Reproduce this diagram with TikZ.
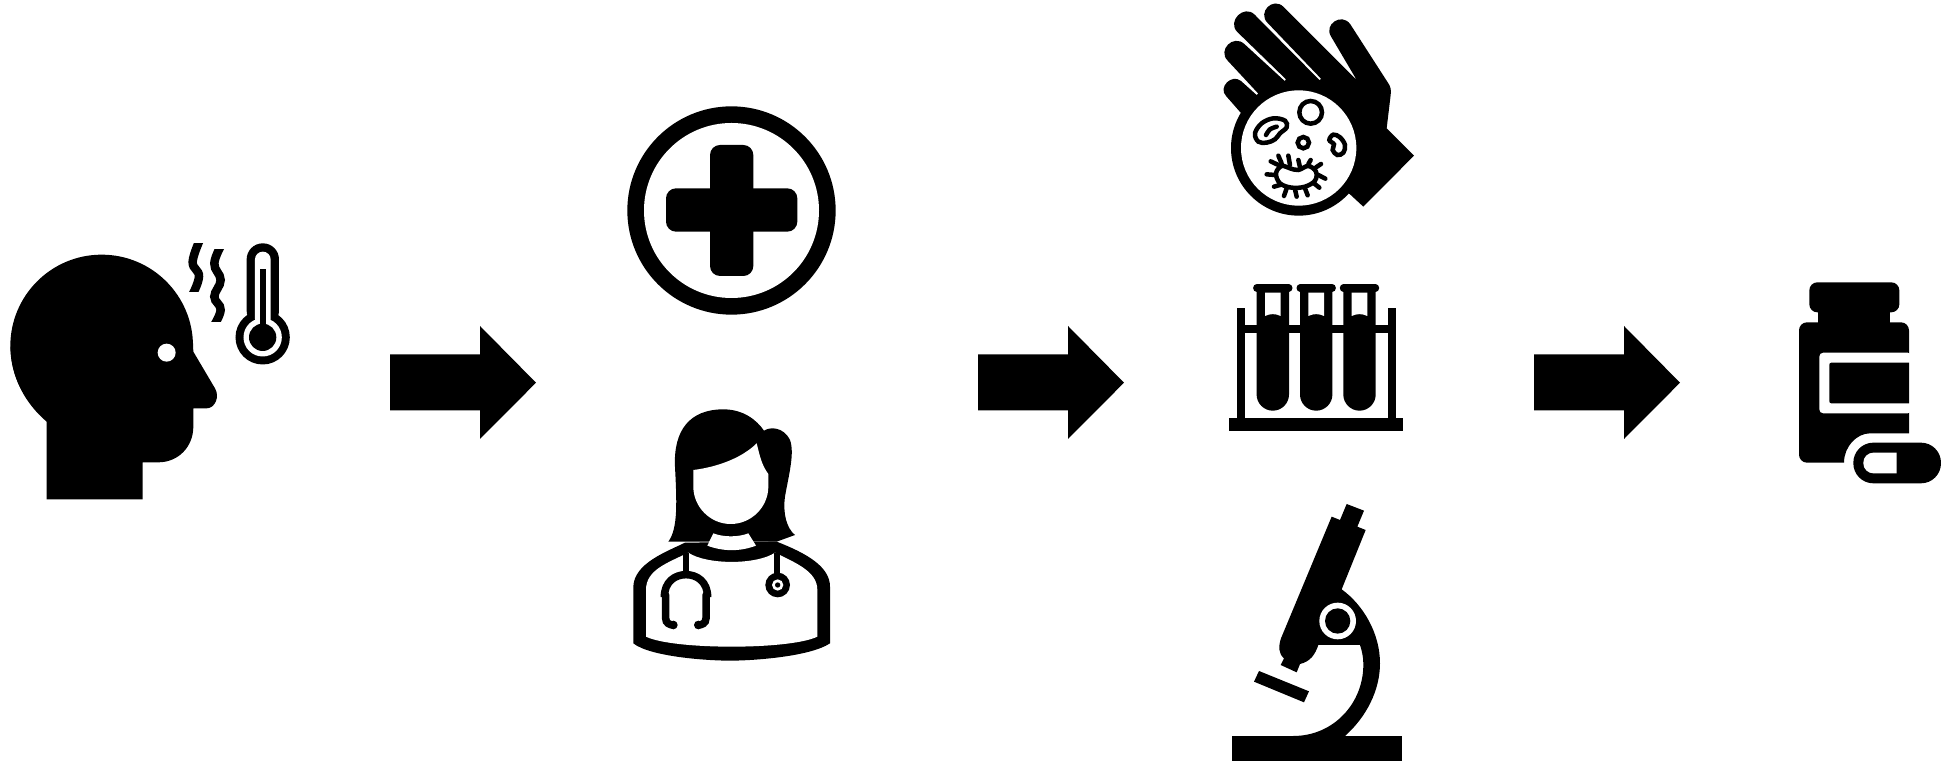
\documentclass[tikz,border=0pt]{standalone}
\usepackage{tikz}
\tikzset{
  solid fill/.style={fill=black},
  blank/.style={fill=white},
  wave/.style={draw=black,line width=0.085cm},
  tube/.style={draw=black,line width=0.075cm,line cap=round},
  bug/.style={draw=black,line width=0.045cm,line cap=round,fill=white},
  crop/.style={shift={#1},scale=0.33333},
}
\begin{document}
\begin{tikzpicture}[x=0.01cm,y=-0.01cm]
  \useasboundingbox (0,0) rectangle (1941,764);

  % the three block arrows
  \foreach \ax in {390,978,1534} {
    \fill[solid fill] (\ax,354.3) -- ({\ax+90},354.3) -- ({\ax+90},326) -- ({\ax+146},382.7)
      -- ({\ax+90},439) -- ({\ax+90},410.3) -- (\ax,410.3) -- cycle;
  }

  % head with fever
  \begin{scope}[crop={(0,220)}]
    \fill[solid fill] (305,378) circle[radius=274];
    \fill[solid fill] (32,380) .. controls (32,470) and (75,550) .. (140,605) -- (140,838) -- (428,838) -- (428,727)
      -- (475,727) .. controls (535,727) and (580,680) .. (580,620) -- (580,565) -- (620,565)
      .. controls (645,565) and (660,530) .. (645,505) -- (580,395) -- (579,370) -- cycle;
    \fill[blank] (500,398) circle[radius=27];
    \begin{scope}
      \clip (540,70) rectangle (625,215);
      \draw[wave] plot[smooth,tension=0.7] coordinates {(604,50) (578,125) (597,170) (572,235)};
    \end{scope}
    \begin{scope}
      \clip (620,88) rectangle (690,305);
      \draw[wave] plot[smooth,tension=0.7] coordinates {(668,68) (643,130) (662,180) (643,230) (662,270) (637,325)};
    \end{scope}
    % thermometer
    \fill[solid fill] (788,352) circle[radius=81.5];
    \fill[solid fill,rounded corners=0.16cm] (740,320) -- (740,70) -- (837,70) -- (837,320) -- cycle;
    \fill[blank] (788,352) circle[radius=57.5];
    \fill[blank,rounded corners=0.078cm] (765,320) -- (765,95) -- (812,95) -- (812,320) -- cycle;
    \fill[solid fill] (780,148) rectangle (797,352);
    \fill[solid fill] (788,352) circle[radius=41];
  \end{scope}

  % medical cross
  \begin{scope}[crop={(620,95)}]
    \fill[solid fill] (334.5,346.5) circle[radius=312.5];
    \fill[blank] (334.5,346.5) circle[radius=262.5];
    \fill[solid fill,rounded corners=0.1cm] (270,150) rectangle (400,543);
    \fill[solid fill,rounded corners=0.1cm] (138,280) rectangle (532,410);
  \end{scope}

  % doctor
  \begin{scope}[crop={(610,400)}]
    \fill[solid fill] (70,730) -- (70,560) .. controls (72,490) and (170,455) .. (225,428)
      -- (500,425) .. controls (590,460) and (660,500) .. (660,560) -- (660,730)
      .. controls (600,770) and (430,782) .. (360,782) .. controls (290,782) and (120,770) .. (70,730);
    \fill[solid fill] (175,425) .. controls (205,385) and (200,300) .. (195,200)
      .. controls (190,90) and (240,28) .. (340,28) .. controls (400,28) and (440,60) .. (462,92)
      .. controls (480,80) and (520,80) .. (540,120) .. controls (555,160) and (535,230) .. (525,290)
      .. controls (518,340) and (530,385) .. (555,405) -- (500,425) -- cycle;
    \fill[blank] (250,210) .. controls (330,200) and (400,170) .. (440,130)
      .. controls (450,170) and (455,195) .. (475,222) -- (475,260)
      .. controls (475,320) and (425,372) .. (362,372) .. controls (300,372) and (250,320) .. (250,260) -- cycle;
    \fill[blank] (310,400) .. controls (340,412) and (385,412) .. (415,400) -- (438,437)
      .. controls (390,455) and (340,455) .. (292,437) -- cycle;
    \fill[blank] (108,710) -- (108,570) .. controls (108,510) and (170,490) .. (235,458)
      .. controls (290,495) and (440,495) .. (495,458) .. controls (560,490) and (622,515) .. (622,570)
      -- (622,710) .. controls (540,750) and (190,750) .. (108,710) -- cycle;
  \end{scope}
  \begin{scope}[crop={(650,540)}]
    \draw[tube,line cap=butt,line width=0.055cm] (108,40) -- (108,100);
    \draw[tube,line cap=butt] (43,172) .. controls (43,125) and (75,104) .. (108,104)
      .. controls (141,104) and (173,125) .. (173,172);
    \draw[tube] (47,165) -- (47,235) .. controls (47,250) and (60,255) .. (70,255);
    \draw[tube] (168,165) -- (168,235) .. controls (168,250) and (155,255) .. (145,255);
    \fill[solid fill] (70,255) circle[radius=13];
    \fill[solid fill] (145,255) circle[radius=13];
    \draw[tube,line cap=butt,line width=0.055cm] (381,40) -- (381,105);
    \fill[solid fill] (383,135) circle[radius=37];
    \fill[blank] (383,135) circle[radius=17];
    \fill[solid fill] (383,135) circle[radius=8];
  \end{scope}

  % hand holding the germs
  \begin{scope}[crop={(1210,0)}]
    \fill[solid fill] (92,338) -- (49,289) .. controls (22,262) and (66,220) .. (93,243)
      -- (141,286) -- (145,281) -- (53,182) .. controls (22,150) and (70,102) .. (103,132)
      -- (224,243) -- (228,238) -- (82,96) .. controls (50,64) and (102,12) .. (134,44)
      -- (329,241) -- (333,236) -- (173,69) .. controls (141,37) and (189,-11) .. (221,21)
      -- (440,240) -- (364,111) .. controls (339,74) and (395,36) .. (421,73)
      -- (535,250) .. controls (542,260) and (544,270) .. (542,285) -- (530,385)
      -- (612,467) -- (460,620) -- (420,583) -- cycle;
    \fill[solid fill] (266,444) circle[radius=203];
    \fill[blank] (266,444) circle[radius=173];
  \end{scope}
  \begin{scope}[crop={(1240,90)}]
    \draw[bug] (212,67) circle[radius=34];
    \draw[bug] (190,158) circle[radius=17];
    \draw[bug] plot[smooth cycle,tension=0.6] coordinates {(45,130) (65,100) (100,85) (135,92) (140,112) (120,130) (105,148) (80,158) (55,155)};
    \draw[bug] plot[smooth] coordinates {(78,135) (90,118) (110,110)};
    \draw[bug] plot[smooth cycle,tension=0.6] coordinates {(268,150) (280,134) (300,142) (315,165) (310,188) (292,195) (278,180) (282,163)};
    % spikes of the bacterium
    \foreach \sx/\sy/\ex/\ey in {115/225/92/214,125/220/115/197,150/225/145/197,180/232/175/210,
      205/222/212/210,228/232/243/222,235/255/256/266,222/280/238/293,195/295/203/316,
      165/298/170/320,140/295/132/318,120/285/102/290,105/255/80/253} {
      \draw[bug] (\sx,\sy) -- (\ex,\ey);
    }
    \draw[bug] plot[smooth cycle,tension=0.6] coordinates {(108,250) (125,228) (150,235) (175,240) (205,228) (228,245) (225,272) (195,290) (155,293) (120,280)};
  \end{scope}

  % rack of test tubes
  \fill[solid fill] (1229.3,418.3) rectangle (1403.3,430.7);
  \fill[solid fill] (1237.3,308.3) rectangle (1245,418.3);
  \fill[solid fill] (1387.7,308.3) rectangle (1395.7,418.3);
  \fill[solid fill] (1245,325) rectangle (1387.7,333.3);
  \foreach \tx in {1272.8,1316.2,1359.5} {
    \fill[solid fill] ({\tx-16.2},288) -- ({\tx+16.2},288) -- ({\tx+16.2},394.5)
      .. controls ({\tx+16.2},403.4) and ({\tx+8.9},410.7) .. (\tx,410.7)
      .. controls ({\tx-8.9},410.7) and ({\tx-16.2},403.4) .. ({\tx-16.2},394.5) -- cycle;
    \draw[tube,line width=0.074cm] ({\tx-16},288) -- ({\tx+16},288);
    \fill[blank] ({\tx-7.8},292.7) -- ({\tx+7.8},292.7) -- ({\tx+7.8},316)
      .. controls ({\tx+3},313.5) and ({\tx-3},313.5) .. ({\tx-7.8},316) -- cycle;
  }

  % microscope
  \begin{scope}[crop={(1220,490)}]
    \fill[solid fill] (35,738) rectangle (545,812);
    \fill[solid fill] (365,298) .. controls (430,345) and (480,430) .. (480,520)
      .. controls (480,600) and (440,680) .. (375,738) -- (220,738)
      .. controls (340,738) and (432,640) .. (430,520) .. controls (430,500) and (425,480) .. (420,465)
      -- (295,465) .. controls (285,495) and (270,515) .. (240,522) -- (230,547) -- (182,525) -- (192,505)
      .. controls (175,490) and (175,470) .. (183,445) -- (335,80) -- (360,90) -- (380,42) -- (432,62)
      -- (412,110) -- (437,120) -- cycle;
    \fill[solid fill] (117,543) -- (267,604) -- (252,637) -- (102,575) -- cycle;
    \fill[blank] (353,393) circle[radius=55];
    \fill[solid fill] (353,393) circle[radius=38];
  \end{scope}

  % pill bottle
  \begin{scope}[crop={(1780,270)}]
    \fill[solid fill,rounded corners=0.08cm] (88,37) rectangle (358,127);
    \fill[solid fill] (115,120) rectangle (330,170);
    \fill[solid fill] (387,490) -- (270,490) .. controls (230,490) and (192,530) .. (192,578)
      [rounded corners=0.08cm] -- (57,578) -- (57,157) -- (387,157) [sharp corners] -- cycle;
    \fill[blank,rounded corners=0.04cm] (395,248) -- (118,248) -- (118,430) -- (395,430) -- cycle;
    \fill[solid fill] (387,278) [rounded corners=0.02cm] -- (148,278) -- (148,400) [sharp corners] -- (387,400) -- cycle;
    \fill[solid fill,rounded corners=0.2cm] (220,518) -- (483,518) -- (483,640) -- (220,640) -- cycle;
    \fill[blank] (350,548) [rounded corners=0.1cm] -- (250,548) -- (250,610) [sharp corners] -- (350,610) -- cycle;
  \end{scope}
\end{tikzpicture}
\end{document}
